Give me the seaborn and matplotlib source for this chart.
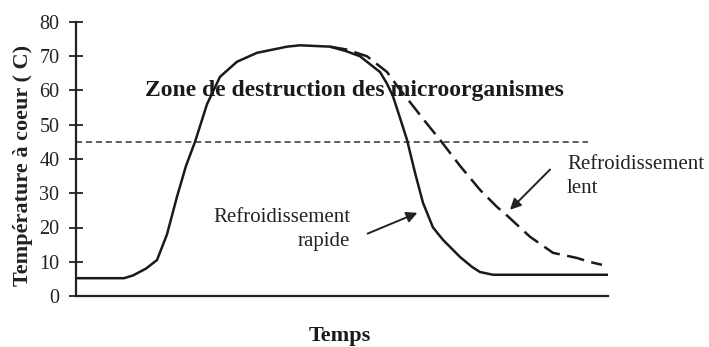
import matplotlib
matplotlib.use("Agg")
import matplotlib.pyplot as plt
import numpy as np
import pandas as pd
import seaborn as sns

# Core temperature (°C) against time (arbitrary units, no ticks on the time axis)
t_rapide = [0, 48, 57, 70, 81, 91, 101, 110, 119, 131, 144, 161, 181, 211, 224,
            254, 270, 284, 297, 304, 311, 317, 324, 331, 339, 347, 357, 367,
            384, 396, 404, 417, 532]
temp_rapide = [5.2, 5.2, 6.0, 8.0, 10.5, 18, 29, 38, 45, 56, 64, 68.4, 71, 72.8, 73.2,
               72.8, 71.5, 70, 67, 65.4, 62, 58.3, 52, 45.6, 36, 27.2, 20, 16.4,
               11.4, 8.5, 7.0, 6.2, 6.2]

t_lent = [254, 270, 291, 311, 322, 334, 349, 364, 384, 404, 421, 431, 454, 477,
          490, 501, 513, 526]
temp_lent = [72.8, 72, 70, 65.4, 61, 56.6, 51, 45.6, 38, 31, 26, 23.5, 17.3, 12.6,
             11.8, 11.1, 10, 9.1]

seuil = 45
t_seuil = [0, 512]
y_ticks = [0, 10, 20, 30, 40, 50, 60, 70, 80]

sns.set_theme(style="white")
plt.rcParams["font.family"] = ["Liberation Serif", "DejaVu Serif"]

fig = plt.figure(figsize=(7.09, 3.47), dpi=100)
ax = fig.add_axes([76 / 709, 1 - 296 / 347, (608 - 76) / 709, (296 - 22) / 347])

df_rapide = pd.DataFrame({"t": t_rapide, "temp": temp_rapide})
df_lent = pd.DataFrame({"t": t_lent, "temp": temp_lent})
df_seuil = pd.DataFrame({"t": t_seuil, "temp": [seuil, seuil]})

sns.lineplot(data=df_seuil, x="t", y="temp", ax=ax, color="#333333", lw=1.1,
             linestyle=(0, (4, 2.5)), sort=False)
sns.lineplot(data=df_lent, x="t", y="temp", ax=ax, color="#1a1a1a", lw=1.8,
             linestyle=(0, (7, 3)), sort=False)
sns.lineplot(data=df_rapide, x="t", y="temp", ax=ax, color="#1a1a1a", lw=1.8,
             sort=False)

ax.set_xlim(0, 532)
ax.set_ylim(0, 80)
ax.set_yticks(y_ticks)
ax.set_xticks([])
ax.set_xlabel("")
ax.set_ylabel("")
ax.tick_params(axis="y", direction="inout", length=10, width=1.3, labelsize=14.5,
               colors="#222222", pad=7, left=True)

fig.text(340 / 709, 1 - 336 / 347, "Temps", fontsize=16, fontweight="bold",
         ha="center", va="center", color="#1a1a1a")
fig.text(23 / 709, 1 - 165 / 347, "Température à coeur ( C)", fontsize=16,
         fontweight="bold", rotation=90, ha="center", va="center", color="#222222")

for side in ("top", "right"):
    ax.spines[side].set_visible(False)
for side in ("left", "bottom"):
    ax.spines[side].set_color("#222222")
    ax.spines[side].set_linewidth(1.6)

ax.text(69, 60.0, "Zone de destruction des microorganismes", fontsize=17,
        fontweight="bold", ha="left", va="center", color="#1a1a1a")

ax.text(274, 19.5, "Refroidissement\nrapide", fontsize=15, ha="right",
        va="center", ma="right", color="#222222", linespacing=1.35)
ax.text(491, 35.0, "Refroidissement\nlent", fontsize=15, ha="left",
        va="center", ma="left", color="#222222", linespacing=1.35)

ax.annotate("", xy=(344, 24.6), xytext=(289, 17.9),
            arrowprops=dict(arrowstyle="-|>", color="#222222", lw=1.4,
                            mutation_scale=16))
ax.annotate("", xy=(432, 24.6), xytext=(476, 37.5),
            arrowprops=dict(arrowstyle="-|>", color="#222222", lw=1.4,
                            mutation_scale=16))

fig.savefig("out.png", dpi=100)
